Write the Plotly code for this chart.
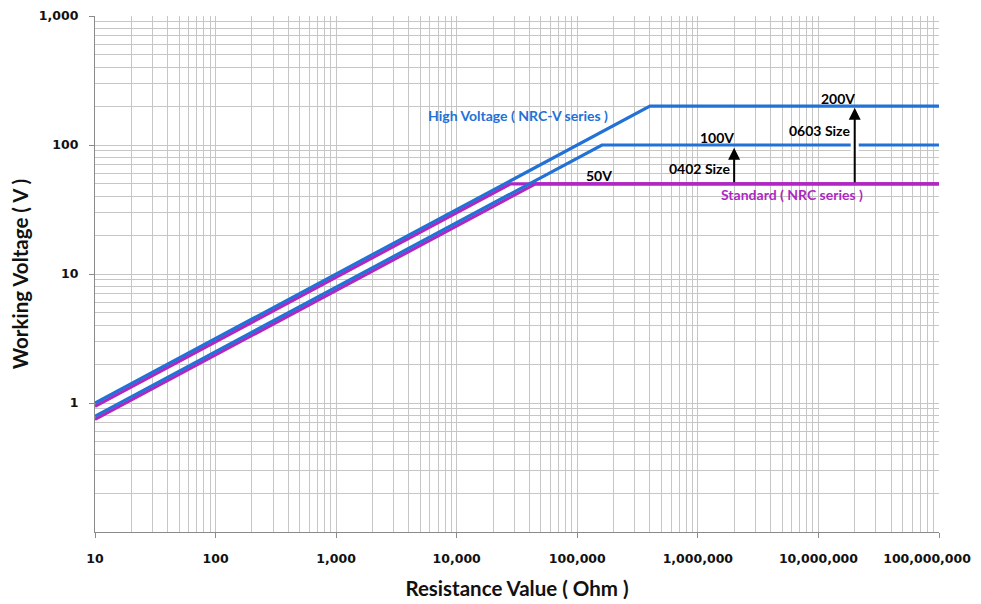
import numpy as np
import plotly.graph_objects as go

# Data: resistance (Ohm) vs working voltage (V)
hv_0603_r = [10, 400000, 100000000]
hv_0603_v = [1.0, 200, 200]
hv_0402_r = [10, 160000, 100000000]
hv_0402_v = [0.79, 100, 100]
std_0603_r = [10, 28000, 100000000]
std_0603_v = [0.944, 50, 50]
std_0402_r = [10, 45000, 100000000]
std_0402_v = [0.746, 50, 50]

x_tick_vals = [10, 100, 1000, 10000, 100000, 1000000, 10000000, 100000000]
x_tick_text = ["10", "100", "1,000", "10,000", "100,000", "1,000,000", "10,000,000", "100,000,000"]
y_tick_vals = [1, 10, 100, 1000]
y_tick_text = ["1", "10", "100", "1,000"]

arrow_r = [2000000, 20000000]
arrow_from_v = [50, 50]
arrow_to_v = [95, 194]

BLUE = "#2271d6"
MAG = "#b026c2"
GRID = "#c6c6c6"
AXIS = "#8a8a8a"

fig = go.Figure()
for r, v, c in [(std_0603_r, std_0603_v, MAG), (std_0402_r, std_0402_v, MAG),
                (hv_0603_r, hv_0603_v, BLUE), (hv_0402_r, hv_0402_v, BLUE)]:
    fig.add_trace(go.Scatter(x=r, y=v, mode="lines", line=dict(color=c, width=3.2),
                             showlegend=False, hoverinfo="skip"))

# white gap in 100V line where the 0603 arrow passes
fig.add_shape(type="line", x0=arrow_r[1], x1=arrow_r[1], y0=88, y1=112,
              xref="x", yref="y", line=dict(color="white", width=8), layer="above")

for r, v0, v1 in zip(arrow_r, arrow_from_v, arrow_to_v):
    fig.add_annotation(x=np.log10(r), y=np.log10(v1), ax=np.log10(r), ay=np.log10(v0),
                       xref="x", yref="y", axref="x", ayref="y", text="",
                       showarrow=True, arrowhead=2, arrowsize=1.2, arrowwidth=2,
                       arrowcolor="black")

lab_font = dict(family="Lato, 'Open Sans', sans-serif", size=14, color="black")
labels = [
    ("High Voltage ( NRC-V series )", 4.508, 2.225, BLUE),
    ("200V", 7.163, 2.357, "black"),
    ("0603 Size", 7.005, 2.109, "black"),
    ("100V", 6.159, 2.062, "black"),
    ("0402 Size", 6.01, 1.814, "black"),
    ("50V", 5.18, 1.76, "black"),
    ("Standard ( NRC series )", 6.78, 1.62, MAG),
]
for t, lx, ly, c in labels:
    fig.add_annotation(x=lx, y=ly, xref="x", yref="y", text="<b>%s</b>" % t,
                       showarrow=False, font=dict(lab_font, color=c))

tick_font = dict(family="DejaVu Sans", size=12.5, color="#111111")
title_font = dict(family="Lato, 'Open Sans', sans-serif", size=20.5, color="#111111")

x_labels = ["<b>%s</b>" % t for t in x_tick_text]
x_labels[-1] = x_labels[-1] + "\u00a0" * 6

fig.update_xaxes(type="log", range=[1, 8], tickmode="array", tickvals=x_tick_vals,
                 ticktext=x_labels, tickfont=tick_font,
                 showgrid=True, gridcolor=GRID, gridwidth=1,
                 showline=True, linecolor=AXIS, linewidth=1.2,
                 ticks="outside", ticklen=5, tickcolor=AXIS, ticklabelstandoff=10,
                 ticklabeloverflow="allow",
                 minor=dict(tickmode="linear", dtick="D1", showgrid=True, gridcolor=GRID, gridwidth=1, ticks=""),
                 zeroline=False, automargin=False,
                 title=dict(text="<b>Resistance Value ( Ohm )</b>", font=title_font, standoff=16))
fig.update_yaxes(type="log", range=[-1, 3], tickmode="array", tickvals=y_tick_vals,
                 ticktext=["<b>%s</b>" % t for t in y_tick_text], tickfont=tick_font,
                 showgrid=True, gridcolor=GRID, gridwidth=1,
                 showline=True, linecolor=AXIS, linewidth=1.2,
                 ticks="outside", ticklen=5, tickcolor=AXIS, ticklabelstandoff=8,
                 ticklabeloverflow="allow",
                 minor=dict(tickmode="linear", dtick="D1", showgrid=True, gridcolor=GRID, gridwidth=1, ticks=""),
                 zeroline=False, automargin=False,
                 title=dict(text="<b>Working Voltage ( V )</b>", font=title_font, standoff=10))

fig.update_layout(width=981, height=604, margin=dict(l=87, r=50, t=8, b=80),
                  plot_bgcolor="white", paper_bgcolor="white", showlegend=False)

fig.write_html("out.html")
